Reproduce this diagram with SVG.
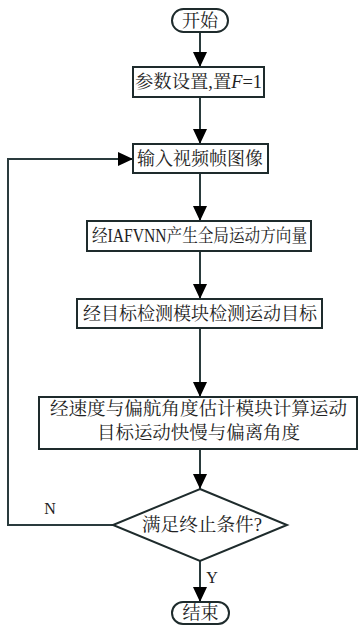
<svg xmlns="http://www.w3.org/2000/svg" width="359" height="629" viewBox="0 0 359 629">
<style>
.box{fill:#fff;stroke:#1e2b2c;stroke-width:2}
.ln{fill:none;stroke:#2a3b3d;stroke-width:2}
.t{font-family:"Liberation Serif","Noto Serif CJK SC","Noto Sans CJK SC",serif;font-size:18px;fill:#222;text-anchor:middle}
.lbl{font-family:"Liberation Serif",serif;font-size:16px;fill:#222;text-anchor:middle}
</style>
<defs>
<marker id="ah" markerUnits="userSpaceOnUse" markerWidth="15" markerHeight="14" refX="15" refY="7" orient="auto">
<path d="M0,0 L15,7 L0,14 z" fill="#000"/>
</marker>
</defs>
<rect width="359" height="629" fill="#fff"/>
<g id="connectors">
<line class="ln" x1="200" y1="32" x2="200" y2="67" marker-end="url(#ah)"/>
<line class="ln" x1="200" y1="97" x2="200" y2="144" marker-end="url(#ah)"/>
<line class="ln" x1="200" y1="173" x2="200" y2="221" marker-end="url(#ah)"/>
<line class="ln" x1="200" y1="251" x2="200" y2="299" marker-end="url(#ah)"/>
<line class="ln" x1="200" y1="328" x2="200" y2="397" marker-end="url(#ah)"/>
<line class="ln" x1="200" y1="449" x2="200" y2="489" marker-end="url(#ah)"/>
<line class="ln" x1="200" y1="561" x2="200" y2="602" marker-end="url(#ah)"/>
<polyline class="ln" points="113,525 8,525 8,159 133,159" marker-end="url(#ah)"/>
<text class="lbl" x="50" y="514">N</text>
<text class="lbl" x="212" y="583">Y</text>
</g>
<g id="start">
<rect class="box" x="172" y="9" width="56" height="23" rx="11.5"/>
<text class="t" x="200" y="27">开始</text>
</g>
<g id="setup">
<rect class="box" x="133" y="67" width="131" height="30"/>
<text class="t" x="198.5" y="88" textLength="127" lengthAdjust="spacingAndGlyphs">参数设置,置<tspan font-style="italic">F</tspan>=1</text>
</g>
<g id="input">
<rect class="box" x="133" y="144" width="135" height="29"/>
<text class="t" x="200" y="165" textLength="126" lengthAdjust="spacingAndGlyphs">输入视频帧图像</text>
</g>
<g id="iafvnn">
<rect class="box" x="87" y="221" width="224" height="30"/>
<text class="t" x="199.5" y="242" textLength="215" lengthAdjust="spacingAndGlyphs">经IAFVNN产生全局运动方向量</text>
</g>
<g id="detect">
<rect class="box" x="77" y="299" width="245" height="29"/>
<text class="t" x="200" y="320" textLength="234" lengthAdjust="spacingAndGlyphs">经目标检测模块检测运动目标</text>
</g>
<g id="estimate">
<rect class="box" x="39" y="397" width="318" height="52"/>
<text class="t" x="198.5" y="415" textLength="297" lengthAdjust="spacingAndGlyphs">经速度与偏航角度估计模块计算运动</text>
<text class="t" x="198.5" y="439" textLength="203" lengthAdjust="spacingAndGlyphs">目标运动快慢与偏离角度</text>
</g>
<g id="decision">
<polygon class="box" points="200,489 287,525 200,561 113,525"/>
<text class="t" x="202" y="531" textLength="120" lengthAdjust="spacingAndGlyphs">满足终止条件?</text>
</g>
<g id="end">
<rect class="box" x="172" y="602" width="57" height="22" rx="11"/>
<text class="t" x="200.5" y="619">结束</text>
</g>
</svg>
